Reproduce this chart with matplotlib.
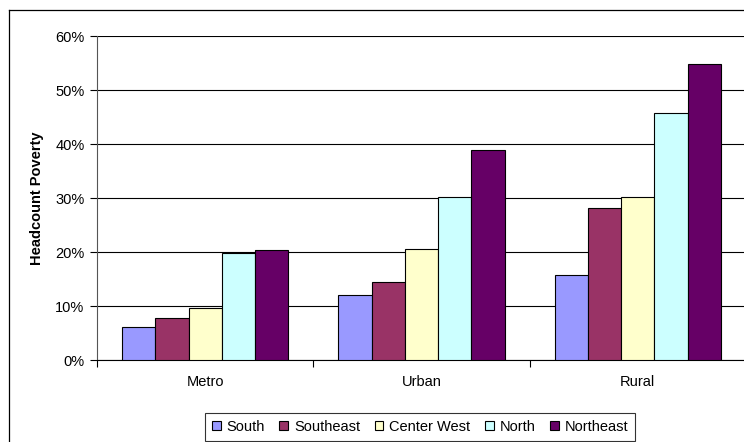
import numpy as np
import matplotlib
matplotlib.use('Agg')
import matplotlib.pyplot as plt
from matplotlib.lines import Line2D
from matplotlib.ticker import FuncFormatter

plt.rcParams['font.family'] = ['Liberation Sans', 'DejaVu Sans']

categories = ['Metro', 'Urban', 'Rural']
regions = ['South', 'Southeast', 'Center West', 'North', 'Northeast']
colors = ['#9999FF', '#993366', '#FFFFCC', '#CCFFFF', '#660066']

# headcount poverty (%) per region, in category order Metro / Urban / Rural
south = [6.2, 12.0, 15.7]
southeast = [7.7, 14.4, 28.2]
center_west = [9.6, 20.6, 30.1]
north = [19.8, 30.1, 45.7]
northeast = [20.4, 38.8, 54.9]
series = [south, southeast, center_west, north, northeast]

W, H = 744, 442
FS = 10.5
fig = plt.figure(figsize=(W / 100, H / 100), dpi=100)

# plot area runs a bit past the right edge (the picture is cropped there)
ax = fig.add_axes([97 / W, 1 - 360 / H, 649 / W, 324 / H])

x = np.arange(len(categories))
bw = 1 / 6.5
for i, (vals, name, c) in enumerate(zip(series, regions, colors)):
    ax.bar(x + (i - 2) * bw, vals, bw, color=c, edgecolor='black',
           linewidth=0.8, label=name, zorder=3)

ax.set_xlim(-0.5, 2.5)
ax.set_ylim(0, 60)
ax.set_yticks(np.arange(0, 61, 10))
ax.yaxis.set_major_formatter(FuncFormatter(lambda v, p: f'{v:.0f}%'))
ax.grid(axis='y', color='black', linewidth=0.8, zorder=0)

ax.set_xticks(x)
ax.set_xticklabels(categories)
ax.set_xticks([-0.5, 0.5, 1.5, 2.5], minor=True)
ax.tick_params(axis='x', which='major', length=0, pad=11, labelsize=FS)
ax.tick_params(axis='x', which='minor', length=5, width=0.8, direction='out')
ax.tick_params(axis='y', length=5, width=0.8, direction='out', pad=4, labelsize=FS)

for s in ['top', 'right']:
    ax.spines[s].set_visible(False)
ax.spines['left'].set_color('#555555')
ax.spines['bottom'].set_color('black')
ax.spines['left'].set_linewidth(0.8)
ax.spines['bottom'].set_linewidth(0.8)

ax.set_ylabel('Headcount Poverty', fontsize=FS, fontweight='bold', labelpad=8)

# chart border (only left and top edges are inside the crop)
fig.add_artist(Line2D([8.5 / W, 8.5 / W], [0, 1 - 9.5 / H], transform=fig.transFigure,
                      color='black', linewidth=0.9))
fig.add_artist(Line2D([8.5 / W, 1], [1 - 9.5 / H, 1 - 9.5 / H], transform=fig.transFigure,
                      color='black', linewidth=0.9))

leg = fig.legend(loc='center', bbox_to_anchor=(420 / W, 1 - 427 / H), ncol=5,
                 fontsize=FS, frameon=True, fancybox=False, edgecolor='black',
                 handlelength=0.6, handleheight=0.6, handletextpad=0.4,
                 columnspacing=1.0, borderpad=0.45, borderaxespad=0)
leg.get_frame().set_linewidth(0.8)

fig.savefig('out.png', dpi=100)
